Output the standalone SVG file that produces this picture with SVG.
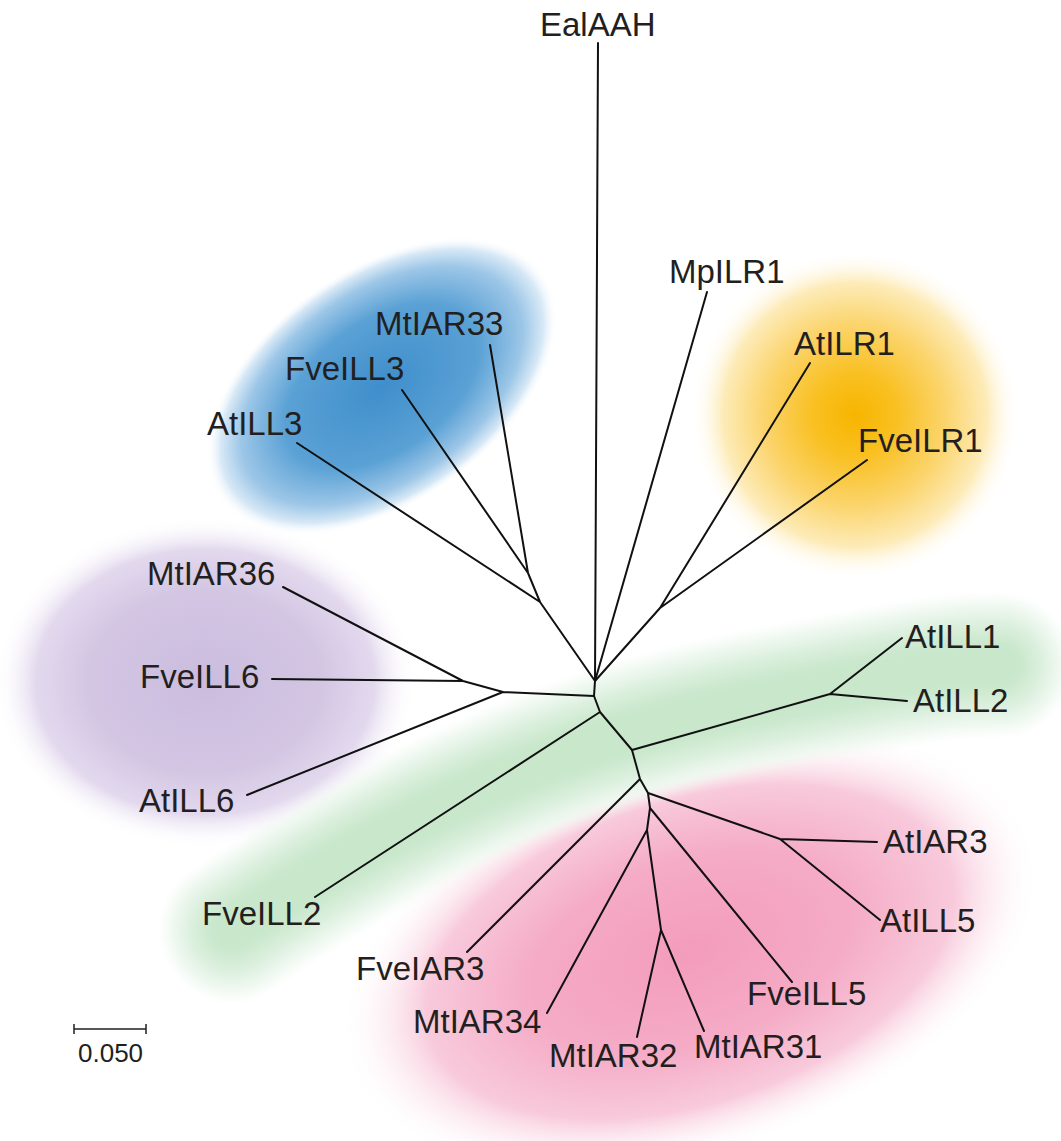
<svg xmlns="http://www.w3.org/2000/svg" width="1061" height="1141" viewBox="0 0 1061 1141">
<defs>
<style>
.lbl{font-family:"Liberation Sans",Arial,sans-serif;font-size:33px;fill:#231f20}
.br{stroke:#111;stroke-width:2;fill:none;stroke-linecap:round;stroke-linejoin:round}
.gb{fill:none;stroke-linecap:round}
</style>
<radialGradient id="gBlue"><stop offset="0" stop-color="#3f8ecb"/><stop offset="0.55" stop-color="#5aa1d5"/><stop offset="0.8" stop-color="#9cc6e7"/><stop offset="0.92" stop-color="#d8e9f6"/><stop offset="1" stop-color="#ffffff" stop-opacity="0"/></radialGradient>
<radialGradient id="gYel"><stop offset="0" stop-color="#f7b500"/><stop offset="0.25" stop-color="#f9c021"/><stop offset="0.55" stop-color="#fbd46c"/><stop offset="0.8" stop-color="#fdebb8"/><stop offset="1" stop-color="#ffffff" stop-opacity="0"/></radialGradient>
<radialGradient id="gPur"><stop offset="0" stop-color="#cbbcde"/><stop offset="0.55" stop-color="#d3c6e3"/><stop offset="0.8" stop-color="#e3d9ee"/><stop offset="1" stop-color="#ffffff" stop-opacity="0"/></radialGradient>
<radialGradient id="gPink"><stop offset="0" stop-color="#f39cbc"/><stop offset="0.45" stop-color="#f5abc6"/><stop offset="0.75" stop-color="#f8cadb"/><stop offset="1" stop-color="#ffffff" stop-opacity="0"/></radialGradient>
<filter id="soft" x="-20%" y="-50%" width="140%" height="200%"><feGaussianBlur stdDeviation="6"/></filter>
<path id="band" d="M 232,930 C 370,835 540,745 740,705 S 960,665 1000,665"/>
</defs>
<rect width="1061" height="1141" fill="#ffffff"/>
<g id="backgrounds">
<ellipse cx="690" cy="952" rx="364" ry="202" transform="rotate(-18 690 952)" fill="url(#gPink)"/>
<ellipse cx="205" cy="682" rx="212" ry="166" fill="url(#gPur)"/>
<g filter="url(#soft)">
<use href="#band" class="gb" stroke="#f1f9f2" stroke-width="132"/>
<use href="#band" class="gb" stroke="#e6f4e8" stroke-width="112"/>
<use href="#band" class="gb" stroke="#dcf0de" stroke-width="92"/>
<use href="#band" class="gb" stroke="#d2ebd4" stroke-width="72"/>
<use href="#band" class="gb" stroke="#c8e7cb" stroke-width="50"/>
</g>
<ellipse cx="382" cy="386" rx="198" ry="118" transform="rotate(-35 382 386)" fill="url(#gBlue)"/>
<circle cx="855" cy="415" r="165" fill="url(#gYel)"/>
</g>
<g id="connectors">
<path class="br" d="M595,681 L598,43"/>
<path class="br" d="M595,681 L707,292"/>
<path class="br" d="M595,681 L660,608 L810,363 M660,608 L867,460"/>
<path class="br" d="M595,681 L540,602 L297,443 M540,602 L528,573 L402,390 M528,573 L490,345"/>
<path class="br" d="M595,681 L594,696 L503,692 L247,795 M503,692 L463,681 L283,587 M463,681 L272,679"/>
<path class="br" d="M594,696 L600,712 L315,897 M600,712 L632,750 L830,694 L902,638 M830,694 L907,701"/>
<path class="br" d="M632,750 L640,779 L467,952 M640,779 L648,793 L780,839 L877,842 M780,839 L880,920"/>
<path class="br" d="M648,793 L650,808 L792,982 M650,808 L647,830 L547,1013 M647,830 L661,930 L637,1037 M661,930 L704,1031"/>
</g>
<g id="n-EalAAH"><text class="lbl" x="540" y="36">EalAAH</text></g>
<g id="n-MpILR1"><text class="lbl" x="669" y="283">MpILR1</text></g>
<g id="n-AtILR1"><text class="lbl" x="794" y="355">AtILR1</text></g>
<g id="n-FveILR1"><text class="lbl" x="858" y="452">FveILR1</text></g>
<g id="n-MtIAR33"><text class="lbl" x="375" y="335">MtIAR33</text></g>
<g id="n-FveILL3"><text class="lbl" x="285" y="380">FveILL3</text></g>
<g id="n-AtILL3"><text class="lbl" x="207" y="435">AtILL3</text></g>
<g id="n-MtIAR36"><text class="lbl" x="147" y="585">MtIAR36</text></g>
<g id="n-FveILL6"><text class="lbl" x="140" y="688">FveILL6</text></g>
<g id="n-AtILL6"><text class="lbl" x="139" y="812">AtILL6</text></g>
<g id="n-FveILL2"><text class="lbl" x="202" y="925">FveILL2</text></g>
<g id="n-AtILL1"><text class="lbl" x="905" y="648">AtILL1</text></g>
<g id="n-AtILL2"><text class="lbl" x="913" y="712">AtILL2</text></g>
<g id="n-AtIAR3"><text class="lbl" x="883" y="853">AtIAR3</text></g>
<g id="n-AtILL5"><text class="lbl" x="880" y="932">AtILL5</text></g>
<g id="n-FveIAR3"><text class="lbl" x="356" y="980">FveIAR3</text></g>
<g id="n-MtIAR34"><text class="lbl" x="413" y="1033">MtIAR34</text></g>
<g id="n-MtIAR32"><text class="lbl" x="549" y="1067">MtIAR32</text></g>
<g id="n-MtIAR31"><text class="lbl" x="694" y="1058">MtIAR31</text></g>
<g id="n-FveILL5"><text class="lbl" x="747" y="1005">FveILL5</text></g>
<g id="scalebar">
<path d="M74,1029 L146,1029 M74,1024 L74,1034 M146,1024 L146,1034" stroke="#231f20" stroke-width="1.5" fill="none"/>
<text x="78" y="1062" style="font-family:'Liberation Sans',Arial,sans-serif;font-size:26px;fill:#231f20">0.050</text>
</g>
</svg>
